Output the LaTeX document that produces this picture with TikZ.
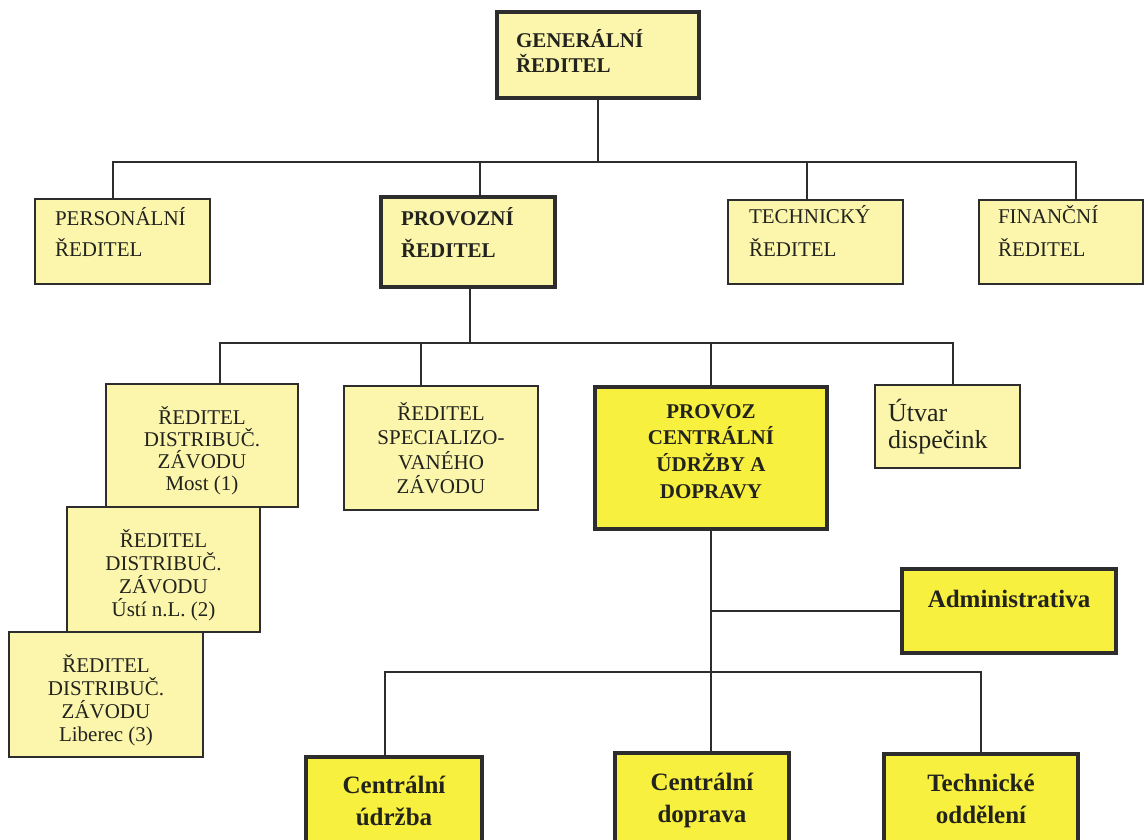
\documentclass[tikz,border=0pt]{standalone}
\usepackage{fontspec}
\setmainfont{Liberation Serif}
\usetikzlibrary{calc}
\definecolor{lyel}{RGB}{251,246,172}
\definecolor{byel}{RGB}{248,240,62}
\definecolor{edgec}{RGB}{45,45,45}
\definecolor{ink}{RGB}{35,35,30}
% #1 width, #2 height, #3 first baseline from top, #4 format, #5 text
\newcommand\bx[5]{\parbox[c][#2][t]{#1}{\lineskiplimit=-1000pt\relax#4\par\vspace*{\dimexpr#3-30pt\relax}\rule{0pt}{30pt}#5\par}}
\newcommand\lft[1]{\raggedright\leftskip=#1\relax}
\begin{document}
\begin{tikzpicture}[x=1pt,y=-1pt,
  box/.style={draw=edgec, inner sep=0pt, outer sep=0pt, text=ink},
  thinbox/.style={box, line width=2.6pt, fill=lyel},
  thickbox/.style={box, line width=4pt, fill=lyel},
  brightbox/.style={box, line width=4pt, fill=byel},
  conn/.style={draw=edgec, line width=2pt}]
\clip (0,0) rectangle (1146,839);
\fill[white] (0,0) rectangle (1146,839);

% level 0
\node[thickbox] (gen) at (598,55) {\bx{202pt}{86pt}{35pt}{\lft{19pt}\bfseries\fontsize{21}{25}\selectfont}{GENERÁLNÍ\\ŘEDITEL}};

% level 1
\node[thinbox] (pers) at (122.5,241.5) {\bx{175pt}{85pt}{26pt}{\lft{20pt}\fontsize{21}{31}\selectfont}{PERSONÁLNÍ\\ŘEDITEL}};
\node[thickbox] (prov) at (468,242) {\bx{174pt}{90pt}{28pt}{\lft{20pt}\bfseries\fontsize{21}{32}\selectfont}{PROVOZNÍ\\ŘEDITEL}};
\node[thinbox] (tech) at (815.5,242) {\bx{175pt}{84pt}{23pt}{\lft{21pt}\fontsize{21}{33}\selectfont}{TECHNICKÝ\\ŘEDITEL}};
\node[thinbox] (fin) at (1061,242) {\bx{164pt}{84pt}{23pt}{\lft{19pt}\fontsize{21}{33}\selectfont}{FINANČNÍ\\ŘEDITEL}};

% level 2
\node[thinbox] (most) at (202,445.5) {\bx{192pt}{123pt}{40pt}{\centering\fontsize{21}{22}\selectfont}{ŘEDITEL\\DISTRIBUČ.\\ZÁVODU\\Most (1)}};
\node[thinbox] (usti) at (163.5,569.5) {\bx{193pt}{125pt}{40pt}{\centering\fontsize{21}{23}\selectfont}{ŘEDITEL\\DISTRIBUČ.\\ZÁVODU\\Ústí n.L. (2)}};
\node[thinbox] (lib) at (106,694.5) {\bx{194pt}{125pt}{40pt}{\centering\fontsize{21}{23}\selectfont}{ŘEDITEL\\DISTRIBUČ.\\ZÁVODU\\Liberec (3)}};
\node[thinbox] (spec) at (441,448) {\bx{194pt}{124pt}{34pt}{\centering\fontsize{21}{24.5}\selectfont}{ŘEDITEL\\SPECIALIZO-\\VANÉHO\\ZÁVODU}};
\node[brightbox] (provoz) at (711,458) {\bx{232pt}{142pt}{31pt}{\centering\bfseries\fontsize{21}{26.7}\selectfont}{PROVOZ\\CENTRÁLNÍ\\ÚDRŽBY A\\DOPRAVY}};
\node[thinbox] (utvar) at (947.5,426.5) {\bx{145pt}{83pt}{36pt}{\lft{13pt}\fontsize{26}{27}\selectfont}{Útvar\\dispečink}};

% level 3
\node[brightbox] (admin) at (1009,611) {\bx{214pt}{84pt}{38pt}{\centering\bfseries\fontsize{25}{30}\selectfont}{Administrativa}};
\node[brightbox] (udr) at (394,813.5) {\bx{176pt}{113pt}{36pt}{\centering\bfseries\fontsize{25}{32}\selectfont}{Centrální\\údržba}};
\node[brightbox] (dop) at (702,811.5) {\bx{174pt}{117pt}{37pt}{\centering\bfseries\fontsize{25}{32}\selectfont}{Centrální\\doprava}};
\node[brightbox] (tech2) at (981,812) {\bx{194pt}{116pt}{37pt}{\centering\bfseries\fontsize{25}{32}\selectfont}{Technické\\oddělení}};

% junctions and connector ends
\coordinate (j1) at (597,162);
\coordinate (j2) at (470,343);
\coordinate (j3) at (711,672);
\coordinate (pers-in) at ($(pers.north)+(-9.5,0)$);
\coordinate (prov-in) at ($(prov.north)+(12,0)$);
\coordinate (tech-in) at ($(tech.north)+(-8.5,0)$);
\coordinate (fin-in) at ($(fin.north)+(15,0)$);
\coordinate (prov-out) at ($(prov.south)+(2,0)$);
\coordinate (most-in) at ($(most.north)+(18,0)$);
\coordinate (spec-in) at ($(spec.north)+(-20,0)$);
\coordinate (utv-in) at ($(utvar.north)+(5.5,0)$);
\coordinate (udr-in) at ($(udr.north)+(-9,0)$);

\draw[conn] (gen.south) -- (gen.south |- j1);
\draw[conn] (pers-in) |- (fin-in |- j1) -- (fin-in);
\draw[conn] (prov-in) -- (prov-in |- j1);
\draw[conn] (tech-in) -- (tech-in |- j1);

\draw[conn] (prov-out) -- (prov-out |- j2);
\draw[conn] (most-in) |- (utv-in |- j2) -- (utv-in);
\draw[conn] (spec-in) -- (spec-in |- j2);
\draw[conn] (provoz.north) -- (provoz.north |- j2);

\draw[conn] (provoz.south) -- (provoz.south |- dop.north);
\draw[conn] (admin.west) -- (admin.west -| provoz.south);
\draw[conn] (udr-in) |- (tech2.north |- j3) -- (tech2.north);
\end{tikzpicture}
\end{document}
